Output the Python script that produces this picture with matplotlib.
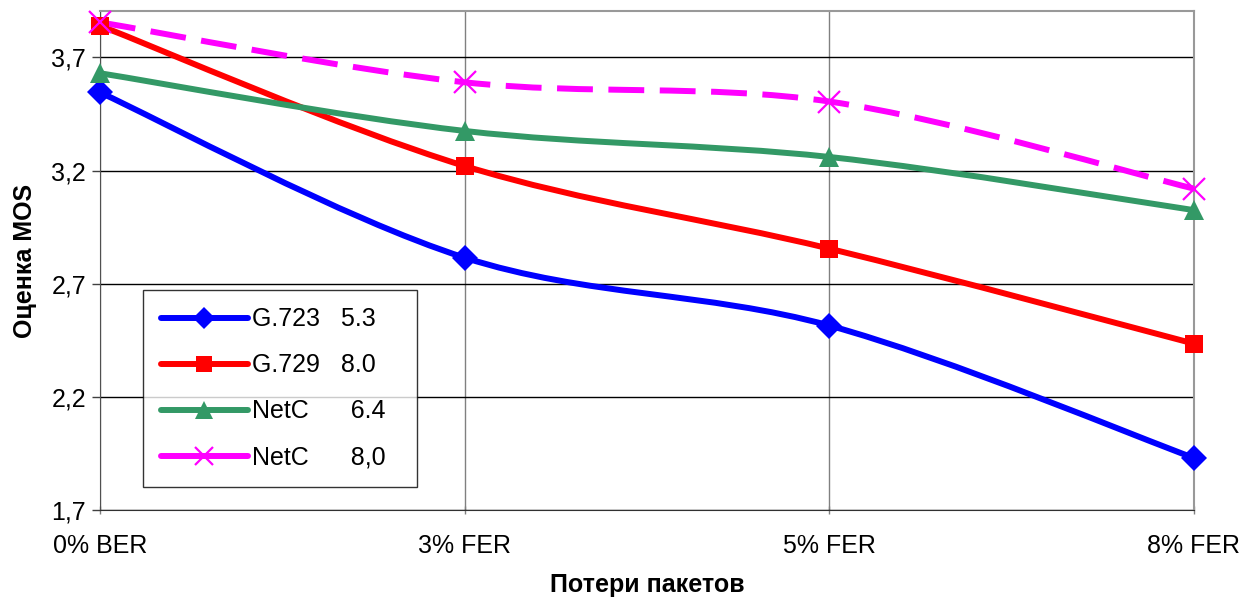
import numpy as np
import matplotlib
matplotlib.use("Agg")
import matplotlib.pyplot as plt
from matplotlib.path import Path
from matplotlib.patches import PathPatch
from matplotlib.lines import Line2D

plt.rcParams['font.family'] = ['Liberation Sans', 'DejaVu Sans']

categories = ["0% BER", "3% FER", "5% FER", "8% FER"]
g723 = [3.545, 2.815, 2.515, 1.93]
g729 = [3.84, 3.22, 2.855, 2.435]
netc64 = [3.63, 3.375, 3.26, 3.025]
netc80 = [3.855, 3.59, 3.505, 3.12]

series = [
    ("G.723   5.3  ", g723, "#0000ff", "D", 13, "-"),
    ("G.729   8.0  ", g729, "#ff0000", "s", 13, "-"),
    ("NetC      6.4  ", netc64, "#339966", "^", 15, "-"),
    ("NetC      8,0  ", netc80, "#ff00ff", "x", 16, "--"),
]


def smooth_path(xs, ys):
    # Excel-like smoothed line: cubic Bezier through the points
    pts = np.column_stack([xs, ys]).astype(float)
    n = len(pts)
    verts = [pts[0]]
    codes = [Path.MOVETO]
    for i in range(n - 1):
        p0 = pts[i - 1] if i > 0 else pts[i]
        p1 = pts[i]
        p2 = pts[i + 1]
        p3 = pts[i + 2] if i + 2 < n else pts[i + 1]
        c1 = p1 + (p2 - p0) / 6.0
        c2 = p2 - (p3 - p1) / 6.0
        verts += [c1, c2, p2]
        codes += [Path.CURVE4] * 3
    return Path(verts, codes)


fig = plt.figure(figsize=(12.58, 6.05), dpi=100)
ax = fig.add_axes([100 / 1258, 95 / 605, 1094 / 1258, 499 / 605])

x = np.arange(len(categories))
handles = []
for label, vals, color, marker, ms, ls in series:
    patch = PathPatch(smooth_path(x, vals), facecolor="none", edgecolor=color,
                      lw=4.3, zorder=3, capstyle="butt", joinstyle="round")
    if ls == "--":
        patch.set_linestyle((0, (6, 2.6)))
    ax.add_patch(patch)
    if marker == "x":
        ax.plot(x, vals, linestyle="none", marker=marker, ms=ms, mew=1.6,
                color=color, zorder=4, clip_on=False)
    else:
        ax.plot(x, vals, linestyle="none", marker=marker, ms=ms, mew=0,
                color=color, zorder=4, clip_on=False)
    handles.append(Line2D([], [], color=color, lw=4.3, marker=marker,
                          ms=ms * 0.85, mew=1.6 if marker == "x" else 0,
                          solid_capstyle="round", label=label))

ax.set_xlim(0, 3)
ax.set_ylim(1.7, 3.905)
yt = [1.7, 2.2, 2.7, 3.2, 3.7]
ax.set_yticks(yt)
ax.set_yticklabels([f"{v:.1f}".replace(".", ",") for v in yt], fontsize=18)
ax.set_xticks(x)
ax.set_xticklabels(categories, fontsize=18)
ax.tick_params(axis="y", length=6, width=1, color="#404040", pad=4)
ax.tick_params(axis="x", length=6, width=1, color="#808080", pad=14, direction="inout")

ax.grid(axis="y", color="black", lw=1)
ax.grid(axis="x", color="#808080", lw=1)
ax.set_axisbelow(True)

for side in ["top", "right"]:
    ax.spines[side].set_color("#999999")
    ax.spines[side].set_linewidth(1.5)
ax.spines["left"].set_color("#505050")
ax.spines["bottom"].set_color("#303030")

ax.set_ylabel("Оценка MOS", fontsize=18, fontweight="bold", labelpad=10)
ax.set_xlabel("Потери пакетов", fontsize=18, fontweight="bold", labelpad=11)

leg = ax.legend(handles=handles, loc="lower left", bbox_to_anchor=(43 / 1094, 23 / 499),
                fontsize=18, frameon=True, fancybox=False, handlelength=3.5,
                handletextpad=0.15, labelspacing=0.88, borderpad=0.7,
                borderaxespad=0)
leg.get_frame().set_edgecolor("black")
leg.get_frame().set_linewidth(1)
leg.set_zorder(5)

fig.savefig("out.png", dpi=100)
